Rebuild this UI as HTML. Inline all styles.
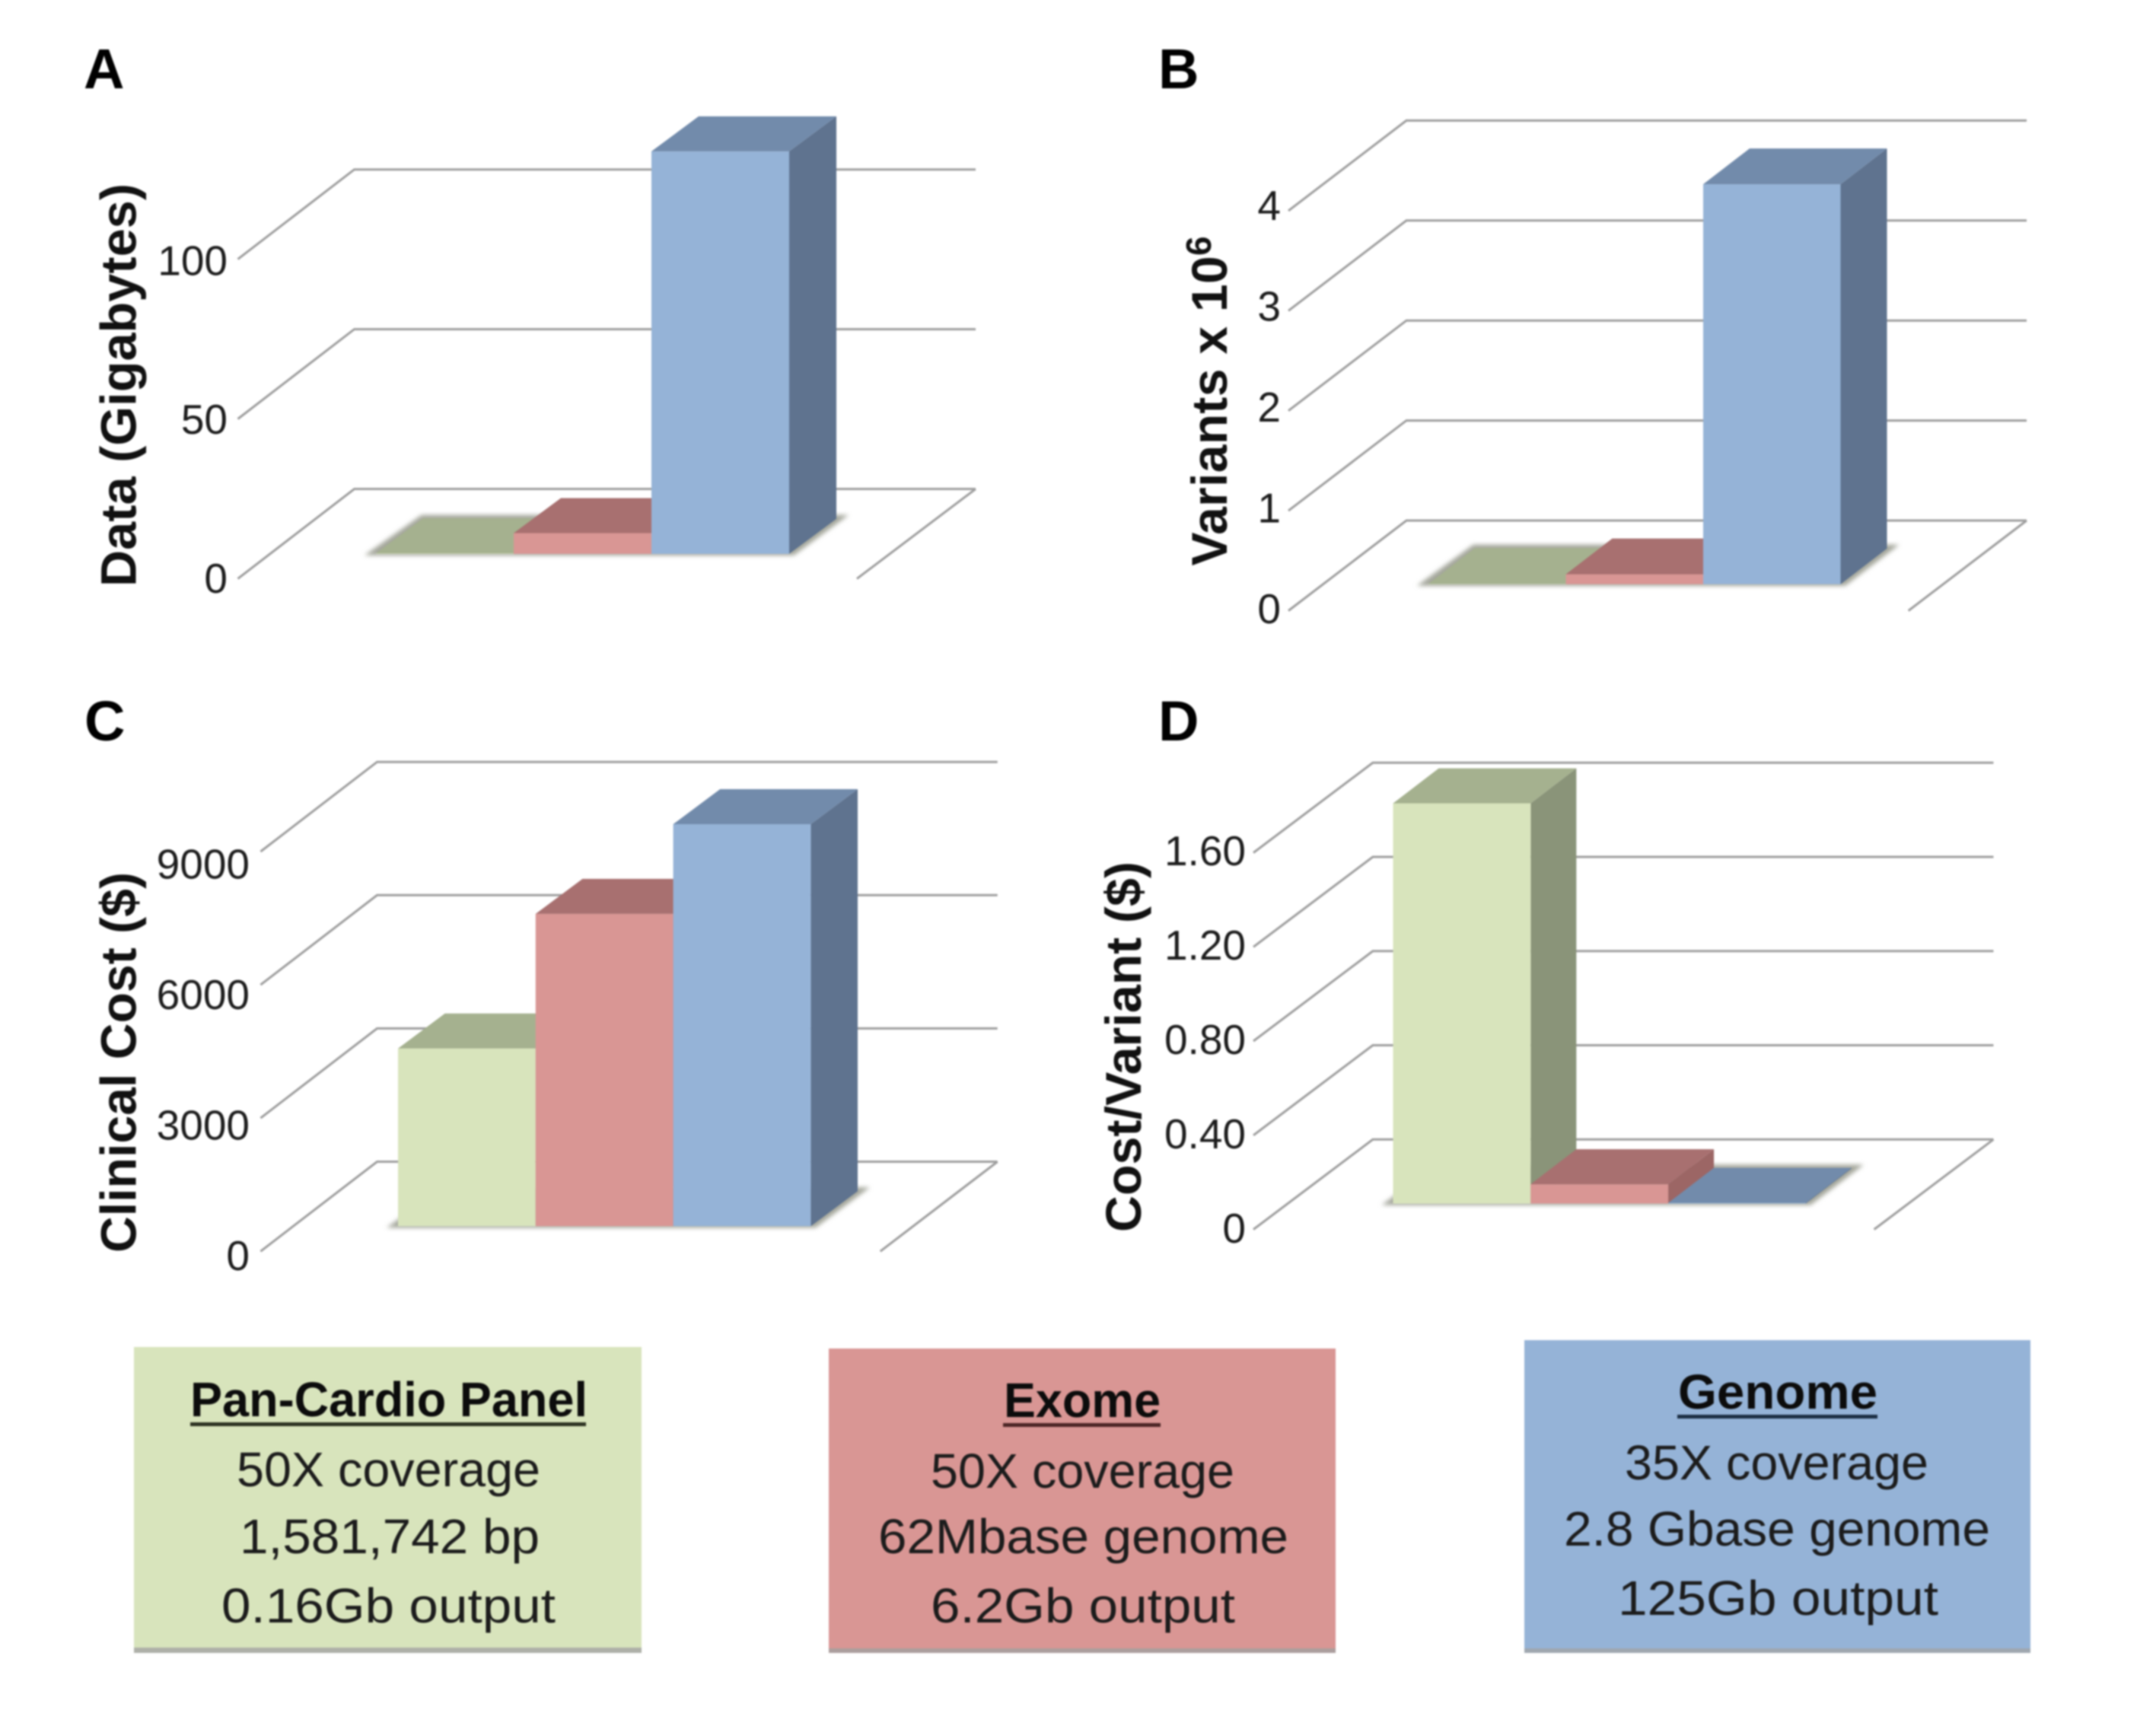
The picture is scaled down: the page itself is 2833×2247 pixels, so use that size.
<!DOCTYPE html>
<html lang="en">
<head>
<meta charset="utf-8">
<title>Sequencing comparison charts</title>
<style>
html,body{margin:0;padding:0;background:#fff;width:2833px;height:2247px;overflow:hidden}
svg{display:block;filter:blur(1.1px)}
text{font-family:"Liberation Sans",sans-serif;fill:#1c1c1c}
.letter{font-size:74px;font-weight:700;fill:#000}
.title{font-size:66px;font-weight:700;fill:#111}
.tick{font-size:55px;text-anchor:end}
.lg{font-size:64px}
.lgh{font-size:64px;font-weight:700;fill:#0c0c0c}
</style>
</head>
<body>
<svg id="figure" width="2833" height="2247" viewBox="0 0 2833 2247" xmlns="http://www.w3.org/2000/svg">
  <defs>
    <filter id="soft" x="-10%" y="-10%" width="120%" height="120%"><feGaussianBlur stdDeviation="3"/></filter>
  </defs>

  <g>
    <rect x="176" y="1775" width="667" height="397" fill="#aeb0a8"/>
    <rect x="176" y="1770" width="667" height="395" fill="#d8e4bc"/>
    <text class="lgh" x="250" y="1861" textLength="522" lengthAdjust="spacingAndGlyphs">Pan-Cardio Panel</text>
    <rect x="250" y="1869" width="520" height="5" fill="#2e3322"/>
    <text class="lg" x="311" y="1953" textLength="399" lengthAdjust="spacingAndGlyphs">50X coverage</text>
    <text class="lg" x="315" y="2041" textLength="394" lengthAdjust="spacingAndGlyphs">1,581,742 bp</text>
    <text class="lg" x="291" y="2132" textLength="439" lengthAdjust="spacingAndGlyphs">0.16Gb output</text>
  </g>

  <g>
    <rect x="1089" y="1777" width="666" height="395" fill="#ab9e9d"/>
    <rect x="1089" y="1772" width="666" height="394" fill="#d99694"/>
    <text class="lgh" x="1319" y="1862" textLength="206" lengthAdjust="spacingAndGlyphs">Exome</text>
    <rect x="1318" y="1870" width="207" height="5" fill="#4d2626"/>
    <text class="lg" x="1223" y="1955" textLength="399" lengthAdjust="spacingAndGlyphs">50X coverage</text>
    <text class="lg" x="1154" y="2041" textLength="539" lengthAdjust="spacingAndGlyphs">62Mbase genome</text>
    <text class="lg" x="1223" y="2132" textLength="400" lengthAdjust="spacingAndGlyphs">6.2Gb output</text>
  </g>

  <g>
    <rect x="2003" y="1766" width="665" height="406" fill="#9fa7b0"/>
    <rect x="2003" y="1761" width="665" height="405" fill="#95b3d7"/>
    <text class="lgh" x="2205" y="1851" textLength="262" lengthAdjust="spacingAndGlyphs">Genome</text>
    <rect x="2204" y="1859" width="263" height="5" fill="#1c2e44"/>
    <text class="lg" x="2135" y="1944" textLength="399" lengthAdjust="spacingAndGlyphs">35X coverage</text>
    <text class="lg" x="2055" y="2031" textLength="560" lengthAdjust="spacingAndGlyphs">2.8 Gbase genome</text>
    <text class="lg" x="2126" y="2122" textLength="421" lengthAdjust="spacingAndGlyphs">125Gb output</text>
  </g>
</svg>

<script>
// Chart data
const categories = ['Pan-Cardio Panel', 'Exome', 'Genome'];

const dataValues = [0.16, 6.5, 126];
const dataTicks = [0, 50, 100];
const dataTickLabels = ['0', '50', '100'];

const variantValues = [0.003, 0.1, 4.0];
const variantTicks = [0, 1, 2, 3, 4];
const variantTickLabels = ['0', '1', '2', '3', '4'];

const costValues = [4000, 7030, 9050];
const costTicks = [0, 3000, 6000, 9000];
const costTickLabels = ['0', '3000', '6000', '9000'];

const perVariantValues = [1.70, 0.082, 0.003];
const perVariantTicks = [0, 0.4, 0.8, 1.2, 1.6];
const perVariantTickLabels = ['0', '0.40', '0.80', '1.20', '1.60'];

// Layout and styling (not data)
const palette = [
  {front: '#d8e4bc', top: '#a5b18f', side: '#8a9479'},
  {front: '#d99694', top: '#a87070', side: '#9c6665'},
  {front: '#95b3d7', top: '#728bab', side: '#5f738f'}
];

const panels = [
  {key: 'a', letter: 'A', letterX: 110, letterY: 116, values: dataValues, ticks: dataTicks, labels: dataTickLabels,
   backX: 465.6, rightX: 1282, tipX: 312.5, frontRightX: 1126, floorBackY: 642.5, floorFrontY: 760.4, pxPerUnit: 209.9 / 50,
   barX: 494, barW: 181, baseY: 727.8, depthX: 62, depthY: 46,
   labelRight: 299, labelBaseY: 760, labelPxPerUnit: 208.8 / 50,
   title: 'Data (Gigabytes)', titleX: 178.5, titleY: 771, titleLen: 530},
  {key: 'b', letter: 'B', letterX: 1522, letterY: 116, values: variantValues, ticks: variantTicks, labels: variantTickLabels,
   backX: 1848, rightX: 2663, tipX: 1693, frontRightX: 2507.7, floorBackY: 684, floorFrontY: 802.5, pxPerUnit: 131.4,
   barX: 1877, barW: 180.5, baseY: 767.7, depthX: 61, depthY: 47,
   labelRight: 1683, labelBaseY: 800, labelPxPerUnit: 132.5,
   title: 'Variants x 10', titleSup: '6', titleX: 1612, titleY: 743.5, titleLen: 0},
  {key: 'c', letter: 'C', letterX: 111, letterY: 973, values: costValues, ticks: costTicks, labels: costTickLabels,
   backX: 495.5, rightX: 1310.7, tipX: 342.4, frontRightX: 1156.7, floorBackY: 1526.5, floorFrontY: 1644.3, pxPerUnit: 175.1 / 3000,
   barX: 523, barW: 180.8, baseY: 1611.2, depthX: 61.6, depthY: 46,
   labelRight: 328, labelBaseY: 1650, labelPxPerUnit: 171.5 / 3000,
   title: 'Clinical Cost ($)', titleX: 178.4, titleY: 1646, titleLen: 500},
  {key: 'd', letter: 'D', letterX: 1522, letterY: 973, values: perVariantValues, ticks: perVariantTicks, labels: perVariantTickLabels,
   backX: 1803.9, rightX: 2619.4, tipX: 1647, frontRightX: 2462.6, floorBackY: 1497.3, floorFrontY: 1615.5, pxPerUnit: 123.75 / 0.4,
   barX: 1830.5, barW: 180.8, baseY: 1581.5, depthX: 60, depthY: 46,
   labelRight: 1637, labelBaseY: 1614, labelPxPerUnit: 124 / 0.4,
   title: 'Cost/Variant ($)', titleX: 1499, titleY: 1619, titleLen: 487}
];

const SVG_NS = 'http://www.w3.org/2000/svg';
const figure = document.getElementById('figure');

function make(tag, parent) {
  const el = document.createElementNS(SVG_NS, tag);
  parent.appendChild(el);
  return el;
}

function backY(p, v) { return p.floorBackY - v * p.pxPerUnit; }
function tipY(p, v) { return p.floorFrontY - v * p.pxPerUnit; }
function barTopY(p, v) { return p.baseY - v * p.pxPerUnit; }
function barLeftX(p, i) { return p.barX + i * p.barW; }
function labelY(p, v) { return p.labelBaseY - v * p.labelPxPerUnit; }

function setPoly(el, pts, fill) {
  el.setAttribute('points', pts.map(function (q) { return q[0].toFixed(1) + ',' + q[1].toFixed(1); }).join(' '));
  el.setAttribute('fill', fill);
}

function setLine(el, pts) {
  el.setAttribute('points', pts.map(function (q) { return q[0].toFixed(1) + ',' + q[1].toFixed(1); }).join(' '));
  el.setAttribute('fill', 'none');
  el.setAttribute('stroke', '#9f9f9f');
  el.setAttribute('stroke-width', '3');
}

panels.forEach(function (p) {
  const group = make('g', figure);
  
  

  const letter = make('text', group);
  
  
  letter.setAttribute('class', 'letter');
  letter.setAttribute('x', p.letterX);
  letter.setAttribute('y', p.letterY);
  letter.textContent = p.letter;

  const title = make('text', group);
  
  
  title.setAttribute('class', 'title');
  title.setAttribute('x', p.titleX);
  title.setAttribute('y', p.titleY);
  title.setAttribute('transform', 'rotate(-90 ' + p.titleX + ' ' + p.titleY + ')');
  if (p.titleLen) {
    title.setAttribute('textLength', p.titleLen);
    title.setAttribute('lengthAdjust', 'spacingAndGlyphs');
  }
  title.textContent = p.title;
  if (p.titleSup) {
    title.setAttribute('letter-spacing', '0.3');
    const sup = make('tspan', title);
    
    
    sup.setAttribute('dy', '-21');
    sup.setAttribute('font-size', '46');
    sup.textContent = p.titleSup;
  }

  p.ticks.forEach(function (t, i) {
    const grid = make('polyline', group);
    
    
    setLine(grid, [[p.tipX, tipY(p, t)], [p.backX, backY(p, t)], [p.rightX, backY(p, t)]]);

    const label = make('text', group);
    
    
    label.setAttribute('class', 'tick');
    label.setAttribute('x', p.labelRight);
    label.setAttribute('y', labelY(p, t) + 19);
    label.textContent = p.labels[i];
  });

  const floorEdge = make('polyline', group);
  
  
  setLine(floorEdge, [[p.rightX, p.floorBackY], [p.frontRightX, p.floorFrontY]]);

  const x0 = barLeftX(p, 0);
  const x3 = barLeftX(p, 3);
  const shadow = make('polygon', group);
  
  
  setPoly(shadow, [[x0 - 15, p.baseY + 2], [x3 + 6, p.baseY + 2], [x3 + p.depthX + 16, p.baseY - p.depthY - 5], [x0 + p.depthX - 2, p.baseY - p.depthY - 5]], '#a3a59a');
  shadow.setAttribute('filter', 'url(#soft)');

  p.values.forEach(function (v, i) {
    const x = barLeftX(p, i);
    const xr = x + p.barW;
    const top = barTopY(p, v);
    const colors = palette[i];

    const bar = make('g', group);
    
    

    const side = make('polygon', bar);
    
    
    setPoly(side, [[xr, top], [xr + p.depthX, top - p.depthY], [xr + p.depthX, p.baseY - p.depthY], [xr, p.baseY]], colors.side);

    const front = make('rect', bar);
    
    
    front.setAttribute('x', x);
    front.setAttribute('y', top);
    front.setAttribute('width', p.barW);
    front.setAttribute('height', p.baseY - top);
    front.setAttribute('fill', colors.front);

    const cap = make('polygon', bar);
    
    
    setPoly(cap, [[x, top], [x + p.depthX, top - p.depthY], [xr + p.depthX, top - p.depthY], [xr, top]], colors.top);
  });
});
</script>
</body>
</html>
